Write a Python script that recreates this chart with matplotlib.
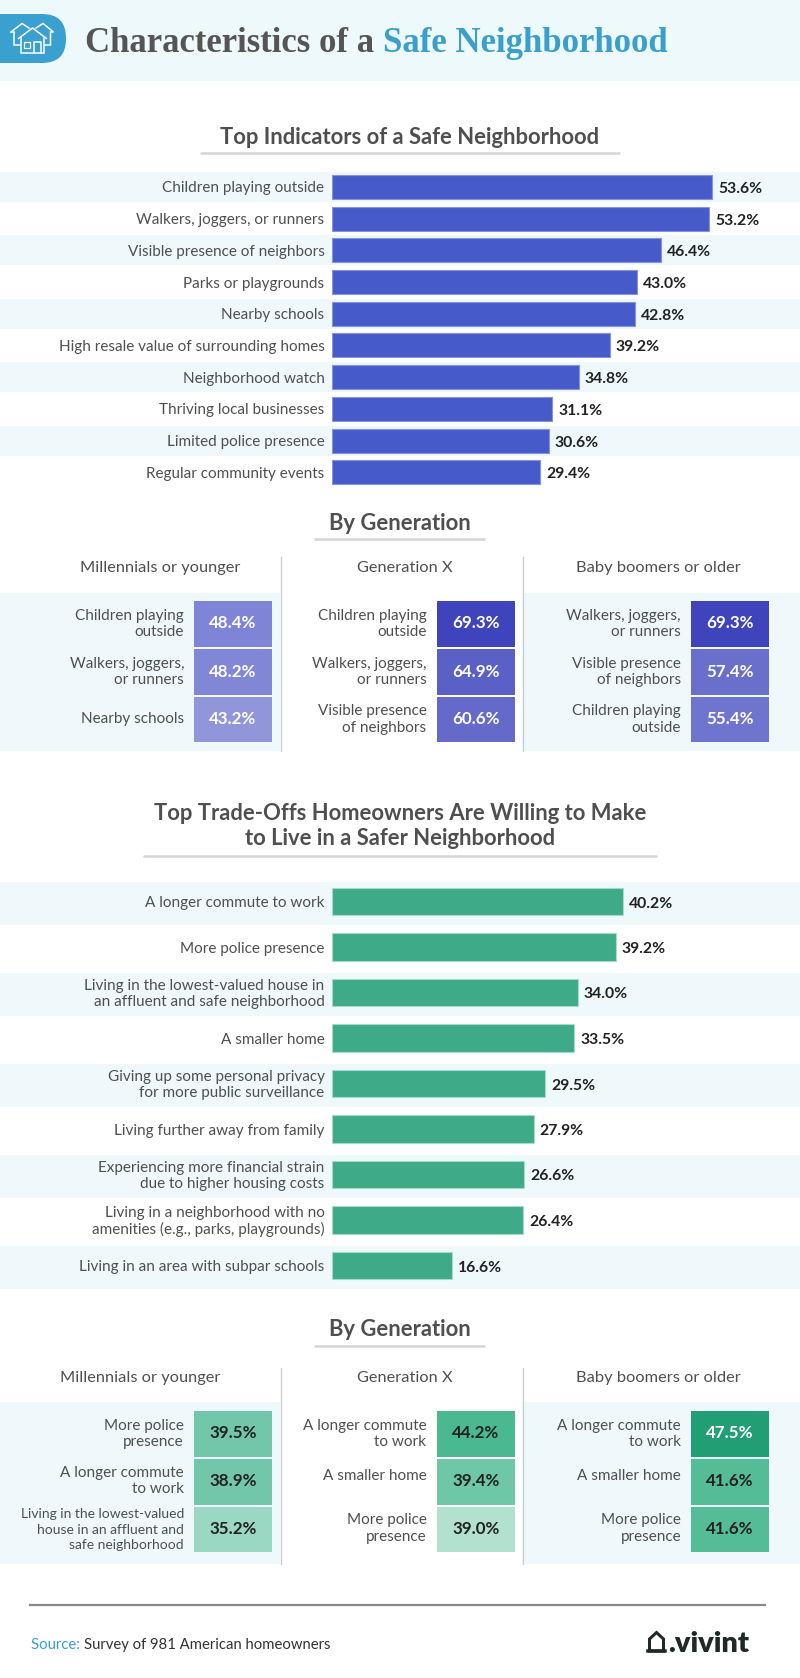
import matplotlib
matplotlib.use('Agg')
import matplotlib.pyplot as plt
from matplotlib.patches import FancyBboxPatch, Polygon, Rectangle

W, H = 800, 1678
PX = 72 / 100  # pixels to points at dpi 100

plt.rcParams['font.family'] = ['Lato', 'DejaVu Sans']

# --- data ---
indicators = ['Children playing outside', 'Walkers, joggers, or runners', 'Visible presence of neighbors',
              'Parks or playgrounds', 'Nearby schools', 'High resale value of surrounding homes',
              'Neighborhood watch', 'Thriving local businesses', 'Limited police presence',
              'Regular community events']
indicator_vals = [53.6, 53.2, 46.4, 43.0, 42.8, 39.2, 34.8, 31.1, 30.6, 29.4]

tradeoffs = ['A longer commute to work', 'More police presence',
             'Living in the lowest-valued house in\nan affluent and safe neighborhood', 'A smaller home',
             'Giving up some personal privacy\nfor more public surveillance', 'Living further away from family',
             'Experiencing more financial strain\ndue to higher housing costs',
             'Living in a neighborhood with no\namenities (e.g., parks, playgrounds)',
             'Living in an area with subpar schools']
tradeoff_vals = [40.2, 39.2, 34.0, 33.5, 29.5, 27.9, 26.6, 26.4, 16.6]

generations = ['Millennials or younger', 'Generation X', 'Baby boomers or older']

ind_gen_labels = [['Children playing\noutside', 'Walkers, joggers,\nor runners', 'Nearby schools'],
                  ['Children playing\noutside', 'Walkers, joggers,\nor runners', 'Visible presence\nof neighbors'],
                  ['Walkers, joggers,\nor runners', 'Visible presence\nof neighbors', 'Children playing\noutside']]
ind_gen_vals = [[48.4, 48.2, 43.2], [69.3, 64.9, 60.6], [69.3, 57.4, 55.4]]
ind_gen_colors = [['#8084D6', '#8286D6', '#9195DA'], ['#3F44BC', '#5A60C5', '#6469CA'], ['#3F44BC', '#6A6FCC', '#6F74CF']]

trade_gen_labels = [['More police\npresence', 'A longer commute\nto work', 'Living in the lowest-valued\nhouse in an affluent and\nsafe neighborhood'],
                    ['A longer commute\nto work', 'A smaller home', 'More police\npresence'],
                    ['A longer commute\nto work', 'A smaller home', 'More police\npresence']]
trade_gen_vals = [[39.5, 38.9, 35.2], [44.2, 39.4, 39.0], [47.5, 41.6, 41.6]]
trade_gen_colors = [['#72C7AA', '#72C7AA', '#9BD8C3'], ['#4AB890', '#6EC7A6', '#B2E1D0'], ['#229E74', '#54BD98', '#54BD98']]
trade_gen_text = [['#222222'] * 3, ['#222222'] * 3, ['#FFFFFF', '#222222', '#222222']]

BAND = '#EFF9FB'
TXT = '#4F4F4F'
DARK = '#222222'

fig = plt.figure(figsize=(W / 100, H / 100), dpi=100, facecolor='white')
bg = fig.add_axes([0, 0, 1, 1])
bg.set_xlim(0, W)
bg.set_ylim(H, 0)
bg.axis('off')


def px_axes(x, y, w, h):
    ax = fig.add_axes([x / W, 1 - (y + h) / H, w / W, h / H])
    ax.patch.set_alpha(0)
    ax.axis('off')
    return ax


def section_title(text, y, y_line, x0, x1, size=22):
    bg.text((x0 + x1) / 2, y, text, ha='center', va='center', fontsize=size * PX, fontweight='bold',
            color=TXT, linespacing=1.22)
    bg.plot([x0, x1], [y_line, y_line], color='#D6D6D6', lw=2.6 * PX, solid_capstyle='round')


def bar_section(labels, vals, c0, pitch, bar_h, scale, color, edge, band_h, band_shift, fs):
    n = len(vals)
    for i in range(0, n, 2):
        yc = c0 + band_shift + pitch * i
        bg.axhspan(yc - band_h / 2, yc + band_h / 2, color=BAND, lw=0)
    ax = px_axes(331.5, c0 - pitch / 2, W - 331.5, pitch * n)
    ax.set_xlim(0, (W - 331.5) / scale)
    ax.set_ylim(n - 0.5, -0.5)
    ax.barh(range(n), vals, height=bar_h / pitch, color=color, edgecolor=edge, linewidth=0.8)
    for i, (lab, v) in enumerate(zip(labels, vals)):
        ax.annotate(lab, (0, i), xytext=(-7 * PX, -1.5 * PX), textcoords='offset points', ha='right', va='center',
                    fontsize=fs * PX, color=TXT, linespacing=1.24, annotation_clip=False)
        ax.annotate(f'{v:.1f}%', (v, i), xytext=(6 * PX, -2 * PX), textcoords='offset points', ha='left', va='center',
                    fontsize=(fs + 0.4) * PX, color=DARK, fontweight='bold')


def gen_panels(labels, vals, colors, tcolors, y_div0, y_div1, y_head, y_band, cell_tops, head_x, nudge):
    bg.axhspan(y_band, y_div1, xmin=0, xmax=280 / W, color=BAND, lw=0)
    bg.axhspan(y_band, y_div1, xmin=522 / W, xmax=1, color=BAND, lw=0)
    for xd in (280.5, 522.5):
        bg.plot([xd, xd], [y_div0, y_div1], color='#C9CDCF', lw=1.3 * PX)
    cell_x = [194, 437, 691]
    lab_x = [184, 426.5, 681]
    for p in range(3):
        bg.text(head_x[p], y_head, generations[p], ha='center', va='center', fontsize=16.4 * PX, color=TXT)
        ax = px_axes(cell_x[p], cell_tops[0], 78, cell_tops[-1] - cell_tops[0])
        ax.set_xlim(0, 1)
        ax.set_ylim(cell_tops[-1], cell_tops[0])
        for r in range(3):
            top, bot = cell_tops[r], cell_tops[r + 1]
            ax.barh((top + bot) / 2, 1, height=bot - top - 1.2, color=colors[p][r], linewidth=0)
            ax.text(0.5, (top + bot) / 2 - 0.5, f'{vals[p][r]:.1f}%', ha='center', va='center',
                    fontsize=17 * PX, fontweight='bold', color=tcolors[p][r])
            # the one three line label is set smaller in the original
            three_lines = labels[p][r].count('\n') == 2
            bg.text(lab_x[p], (top + bot) / 2 + nudge[p][r], labels[p][r], ha='right', va='center',
                    fontsize=(13.9 if three_lines else 15.2) * PX, color=TXT,
                    linespacing=1.36 if three_lines else 1.24)


# header
bg.axhspan(0, 81, color='#EDF9FB', lw=0)
bg.add_patch(FancyBboxPatch((-40, 14), 106, 49, boxstyle='round,pad=0,rounding_size=24', fc='#3AA0CF', ec='none'))
for pts in [[(11, 32), (22, 23.5), (29, 28)], [(11, 32), (13.5, 32), (13.5, 45), (20, 45)],
            [(36, 28), (43, 23.5), (53.5, 32), (50.5, 32), (50.5, 45), (45, 45)],
            [(18.5, 38.5), (32.5, 28), (46.5, 38.5)], [(21, 36.5), (21, 53), (44, 53), (44, 36.5)],
            [(33.5, 53), (33.5, 42), (40.5, 42), (40.5, 53)]]:
    bg.plot(*zip(*pts), color='white', lw=1.5 * PX, solid_joinstyle='miter')
bg.add_patch(Rectangle((24, 42), 6, 5.5, fc='none', ec='white', lw=1.2 * PX))
t1 = bg.text(85, 51.5, 'Characteristics of a ', family='Liberation Serif', fontweight='bold', fontsize=34.8 * PX,
             color='#555555', va='baseline', ha='left')
bg.annotate('Safe Neighborhood', xy=(1, 0), xycoords=t1, va='bottom', ha='left', family='Liberation Serif',
            fontweight='bold', fontsize=34.8 * PX, color='#3A9FCC')

# top indicators
section_title('Top Indicators of a Safe Neighborhood', 138, 153, 201, 619)
bar_section(indicators, indicator_vals, 187, 31.7, 24, 7.1, '#465BC9', '#8494E2', 30, 0, 15.3)
section_title('By Generation', 523, 539, 315, 484)
gen_panels(ind_gen_labels, ind_gen_vals, ind_gen_colors, [['white'] * 3] * 3, 557, 751, 568, 593,
           [600, 648, 696, 743], [160, 405, 658], [[0] * 3] * 3)

# trade-offs
section_title('Top Trade-Offs Homeowners Are Willing to Make\nto Live in a Safer Neighborhood', 826, 856, 144, 656)
bar_section(tradeoffs, tradeoff_vals, 901.5, 45.5, 27.5, 7.25, '#3EAA88', '#A5DCC8', 43, 2, 15.3)
section_title('By Generation', 1330, 1346, 315, 484)
gen_panels(trade_gen_labels, trade_gen_vals, trade_gen_colors, trade_gen_text, 1368, 1564, 1378, 1402,
           [1410, 1458, 1506, 1553], [140, 405, 658], [[0, -1, 0], [0, -6, -1], [0, -6, -1]])

# footer
bg.plot([30, 765], [1605, 1605], color='#888888', lw=2.2 * PX)
t2 = bg.text(31, 1649, 'Source: ', fontsize=14.9 * PX, color='#3A9FCC', va='baseline')
bg.annotate('Survey of 981 American homeowners', xy=(1, 0), xycoords=t2, va='bottom', ha='left',
            fontsize=14.9 * PX, color='#333333')
bg.add_patch(Polygon([(649.5, 1651), (649.5, 1639), (656.5, 1632.5), (663.5, 1639), (663.5, 1651)], closed=True,
                     fc='none', ec='#1F2A26', lw=3 * PX, joinstyle='miter'))
bg.plot([648, 665], [1650.5, 1650.5], color='#1F2A26', lw=3.5 * PX)
bg.text(668, 1652, '.vivint', fontsize=29 * PX, fontweight='heavy', color='#1F2A26', va='baseline', ha='left')

fig.savefig('out.png', dpi=100)
